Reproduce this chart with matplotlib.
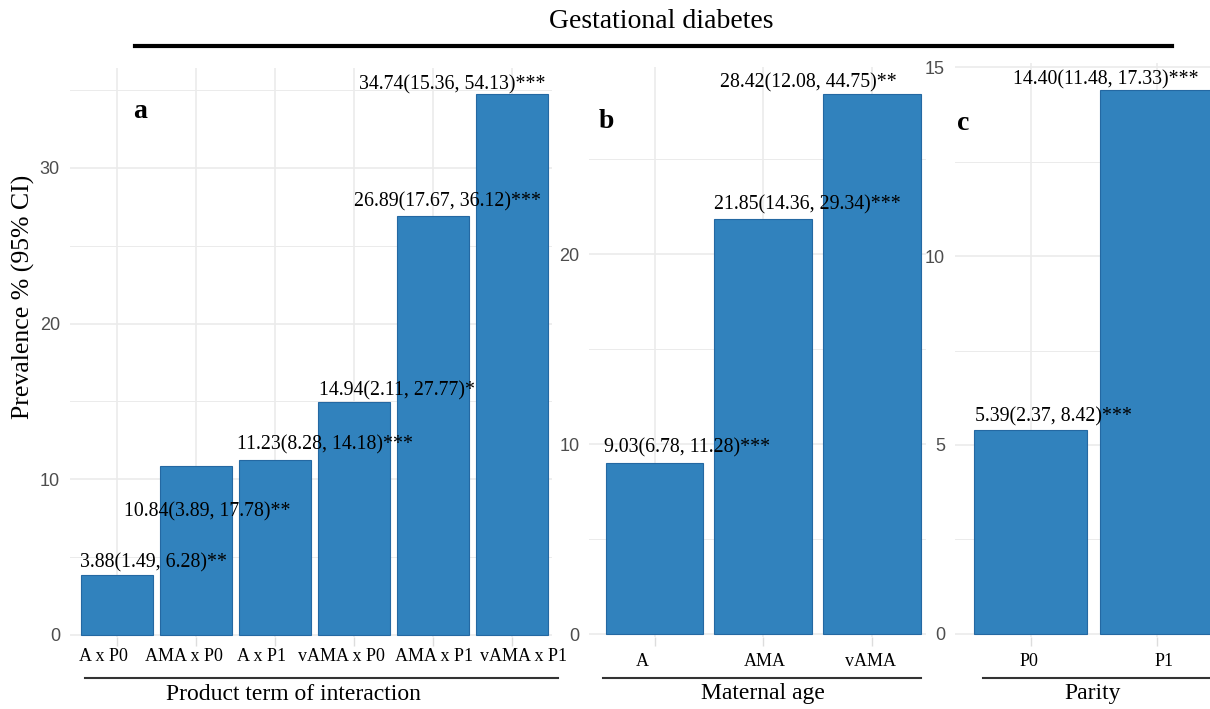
#!/usr/bin/env python3
"""
Gestational diabetes prevalence: interaction term, maternal age, parity
"""

import matplotlib
matplotlib.use('Agg')
import matplotlib.pyplot as plt
from matplotlib.lines import Line2D
from matplotlib.ticker import MultipleLocator

# --- data -------------------------------------------------------------
inter_cats = ['A x P0', 'AMA x P0', 'A x P1', 'vAMA x P0', 'AMA x P1', 'vAMA x P1']
inter_vals = [3.88, 10.84, 11.23, 14.94, 26.89, 34.74]
inter_low = [1.49, 3.89, 8.28, 2.11, 17.67, 15.36]
inter_high = [6.28, 17.78, 14.18, 27.77, 36.12, 54.13]
inter_stars = ['**', '**', '***', '*', '***', '***']

age_cats = ['A', 'AMA', 'vAMA']
age_vals = [9.03, 21.85, 28.42]
age_low = [6.78, 14.36, 12.08]
age_high = [11.28, 29.34, 44.75]
age_stars = ['***', '***', '**']

parity_cats = ['P0', 'P1']
parity_vals = [5.39, 14.40]
parity_low = [2.37, 11.48]
parity_high = [8.42, 17.33]
parity_stars = ['***', '***']

# --- layout (pixels) --------------------------------------------------
W, H = 1210, 709
BAR_COLOR = '#3182BD'
EDGE_COLOR = '#2468A2'
GRID = '#EBEBEB'
SERIF = ['Liberation Serif', 'DejaVu Serif']
SANS = ['Liberation Sans', 'DejaVu Sans']

# value label offsets from the bar top, in pixels (dx, dy up)
inter_offsets = [(37, 12), (11, -46), (50, 15), (43, 12), (15, 14), (-60, 9)]
age_offsets = [(33, 15), (44, 14), (-64, 11)]
parity_offsets = [(23, 13), (-51, 10)]

# category label nudges in pixels (the original labels sit a bit off their ticks)
inter_shift = [-14, -12, -13, -13, 1, 12]
age_shift = [-12, 2, -2]
parity_shift = [-2, 7]


def px_axes(fig, left, right, top, bottom):
    """Add axes from pixel edges"""
    return fig.add_axes([left / W, 1 - bottom / H, (right - left) / W, (bottom - top) / H])


def draw_panel(ax, cats, vals, low, high, stars, offsets, shifts,
               xlim, ylim, major, minor, label_drop):
    x = list(range(1, len(cats) + 1))
    ax.bar(x, vals, width=0.9, color=BAR_COLOR, edgecolor=EDGE_COLOR,
           linewidth=0.8, zorder=2)

    for xi, v, lo, hi, s, (dx, dy) in zip(x, vals, low, high, stars, offsets):
        ax.annotate(f'{v:.2f}({lo:.2f}, {hi:.2f}){s}', xy=(xi, v),
                    xytext=(dx, dy), textcoords='offset pixels',
                    ha='center', va='center', fontsize=14.3,
                    family=SERIF, color='black', zorder=3,
                    annotation_clip=False)

    ax.set_xlim(*xlim)
    ax.set_ylim(*ylim)
    ax.set_xticks(x)
    ax.set_xticklabels([])
    # category labels drawn by hand so they can be nudged
    for xi, cat, sh in zip(x, cats, shifts):
        ax.annotate(cat, xy=(xi, 0), xycoords=ax.get_xaxis_transform(),
                    xytext=(sh, -label_drop), textcoords='offset pixels',
                    ha='center', va='center', fontsize=13, family=SERIF,
                    annotation_clip=False)

    ax.yaxis.set_major_locator(MultipleLocator(major))
    ax.yaxis.set_minor_locator(MultipleLocator(minor))
    for lbl in ax.get_yticklabels():
        lbl.set_family(SANS)
    ax.tick_params(axis='y', which='both', length=0, pad=7,
                   labelsize=13, labelcolor='#4D4D4D')
    ax.tick_params(axis='x', length=6.5, width=1, color='#DDDDDD')

    ax.set_axisbelow(True)
    ax.grid(which='major', color=GRID, linewidth=1.2)
    ax.grid(which='minor', axis='y', color=GRID, linewidth=0.7)
    for sp in ax.spines.values():
        sp.set_visible(False)
    ax.set_facecolor('none')


def main():
    fig = plt.figure(figsize=(W / 100, H / 100), dpi=100)

    # panel a - interaction
    ax_a = px_axes(fig, 69.6, 551.5, 68.3, 637.3)
    draw_panel(ax_a, inter_cats, inter_vals, inter_low, inter_high, inter_stars,
               inter_offsets, inter_shift, (0.4, 6.5), (-0.15, 36.4), 10, 5, 19)

    # panel b - maternal age
    ax_b = px_axes(fig, 589.3, 926.4, 67, 637)
    draw_panel(ax_b, age_cats, age_vals, age_low, age_high, age_stars,
               age_offsets, age_shift, (0.4, 3.5), (-0.15, 29.84), 10, 5, 25)

    # panel c - parity (runs past the right edge, like the original export)
    ax_c = px_axes(fig, 954.6, 1232.9, 62.5, 637)
    draw_panel(ax_c, parity_cats, parity_vals, parity_low, parity_high, parity_stars,
               parity_offsets, parity_shift, (0.4, 2.6), (-0.08, 15.12), 5, 2.5, 25)

    # panel letters
    for letter, px, py in [('a', 140, 112), ('b', 606, 122), ('c', 963, 124)]:
        fig.text(px / W, 1 - py / H, letter, fontsize=20, fontweight='bold',
                 family=SERIF, ha='center', va='center')

    # y label
    fig.text(23 / W, 1 - 297 / H, 'Prevalence % (95% CI)', rotation=90,
             fontsize=18.5, family=SERIF, ha='center', va='center')

    # main title with its rule
    fig.text(661 / W, 1 - 21 / H, 'Gestational diabetes', fontsize=20,
             family=SERIF, ha='center', va='center')
    fig.add_artist(Line2D([135 / W, 1172 / W], [1 - 46 / H, 1 - 46 / H],
                          color='black', linewidth=3))

    # axis titles with rules above them
    for title, cx, x0, x1 in [('Product term of interaction', 293, 85, 558),
                              ('Maternal age', 763, 603, 921),
                              ('Parity', 1093, 983, 1215)]:
        fig.add_artist(Line2D([x0 / W, x1 / W], [1 - 678 / H, 1 - 678 / H],
                              color='#333333', linewidth=1.5))
        fig.text(cx / W, 1 - 694 / H, title, fontsize=17, family=SERIF,
                 ha='center', va='center')

    fig.savefig('out.png', dpi=100)


if __name__ == '__main__':
    main()
